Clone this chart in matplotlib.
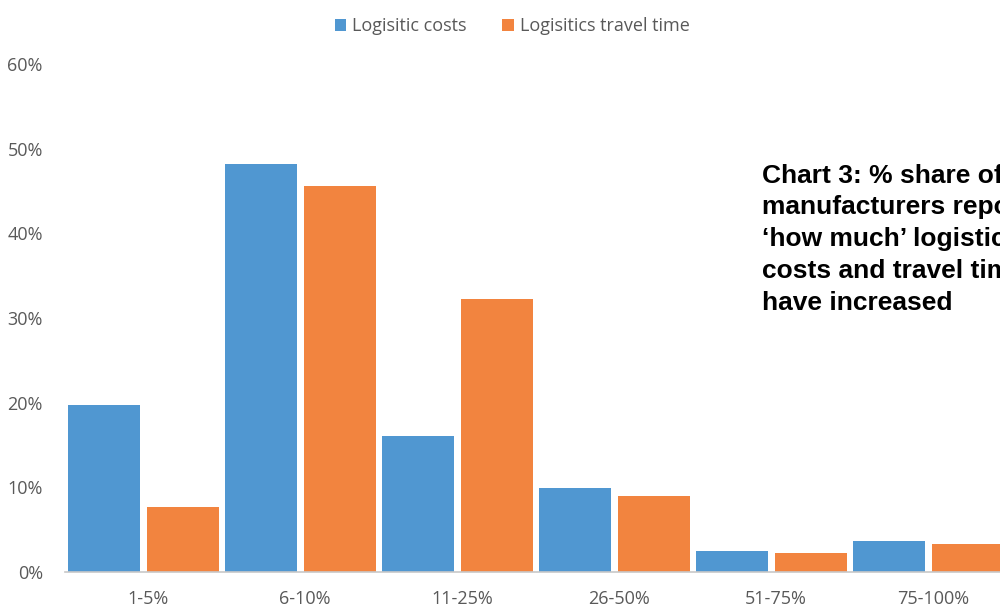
import matplotlib.pyplot as plt
import numpy as np

categories = ["1-5%", "6-10%", "11-25%", "26-50%", "51-75%", "75-100%"]
logistic_costs = [19.7, 48.2, 16.1, 9.9, 2.5, 3.7]
travel_time = [7.7, 45.6, 32.2, 9.0, 2.2, 3.3]
y_ticks = [0, 10, 20, 30, 40, 50, 60]

BLUE = "#5097D1"
ORANGE = "#F2843F"
GREY = "#595959"


def main():
    fig = plt.figure(figsize=(10, 6.08), dpi=100)
    # axes run slightly past the right edge, like the cropped original
    ax = fig.add_axes([0.065, 0.0592, 0.942, 0.8355])

    x = np.arange(len(categories))
    w = 0.459
    off = 0.2516
    ax.bar(x - off, logistic_costs, w, color=BLUE, label="Logisitic costs")
    ax.bar(x + off, travel_time, w, color=ORANGE, label="Logisitics travel time")

    ax.set_xlim(-0.5, len(categories) - 0.5)
    ax.set_ylim(0, 60)
    ax.set_yticks(y_ticks)
    ax.set_yticklabels([f"{v}%" for v in y_ticks])
    ax.set_xticks(x + 0.03)
    ax.set_xticklabels(categories)
    ax.tick_params(length=0, labelsize=13, labelcolor=GREY)
    for lab in ax.get_xticklabels() + ax.get_yticklabels():
        lab.set_family("Open Sans")
    ax.tick_params(axis="y", pad=16)
    ax.tick_params(axis="x", pad=13)

    for s in ["top", "right", "left"]:
        ax.spines[s].set_visible(False)
    ax.spines["bottom"].set_color("#C8C8C8")
    ax.spines["bottom"].set_linewidth(1.2)

    fig.legend(
        loc="center",
        bbox_to_anchor=(0.512, 0.957),
        ncol=2,
        frameon=False,
        handlelength=0.65,
        handleheight=0.65,
        handletextpad=0.3,
        columnspacing=2.0,
        prop={"family": "Open Sans", "size": 13},
        labelcolor=GREY,
    )

    fig.text(
        0.762,
        0.731,
        "Chart 3: % share of\nmanufacturers reporting\n\u2018how much\u2019 logistics\n"
        "costs and travel time\nhave increased",
        fontsize=19,
        fontweight="bold",
        family="Liberation Sans",
        va="top",
        ha="left",
        linespacing=1.41,
        color="black",
    )

    plt.savefig("out.png", dpi=100)


if __name__ == "__main__":
    main()
